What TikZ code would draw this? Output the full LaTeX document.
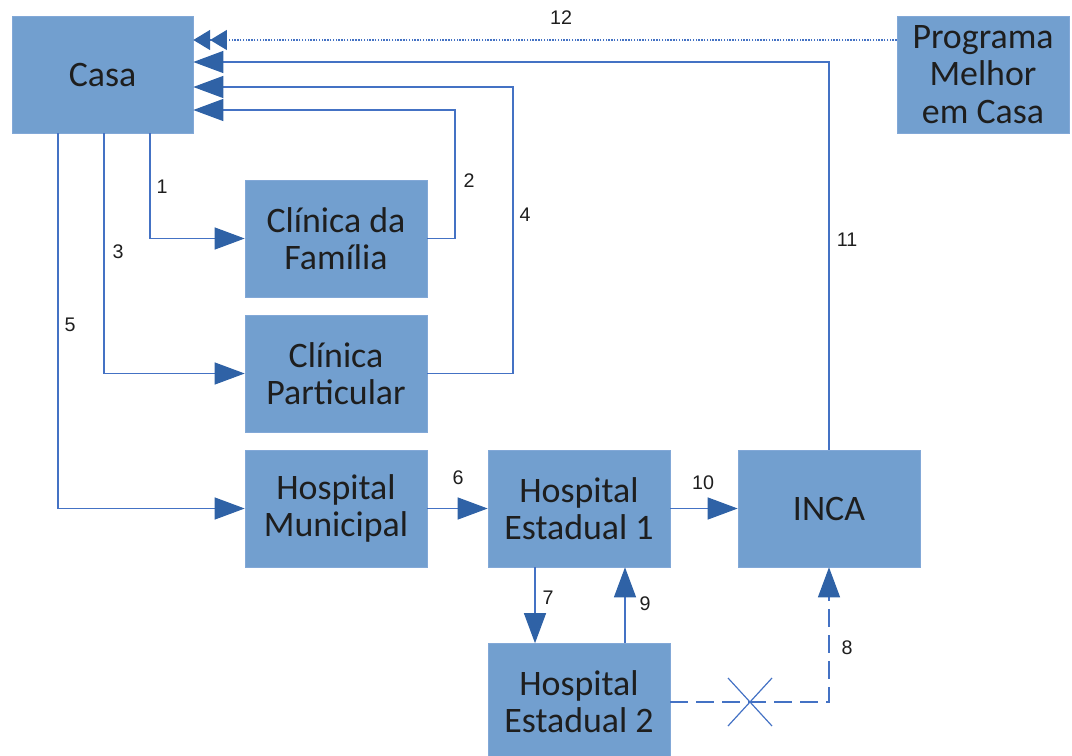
\documentclass[tikz,border=0pt]{standalone}
\usepackage{fontspec}
\setmainfont{Carlito}
\newfontfamily\numfont{Liberation Sans}
\usetikzlibrary{arrows.meta}

\definecolor{boxfill}{RGB}{114,159,207}
\definecolor{boxedge}{RGB}{130,168,215}
\definecolor{lineblue}{RGB}{68,114,196}
\definecolor{headblue}{RGB}{47,98,166}
\definecolor{textgray}{RGB}{30,30,30}

\tikzset{
	box/.style={draw=boxedge, fill=boxfill, minimum width=4.55cm, minimum height=2.925cm,
		inner sep=0pt, align=center, text=textgray, font=\fontsize{25.5}{26.5}\selectfont},
	conn/.style={draw=lineblue, line width=0.85pt,
		-{Triangle[length=0.75cm, width=0.55cm, color=headblue, fill=headblue]}},
	dotconn/.style={draw=lineblue, line width=0.85pt, dash pattern=on 1pt off 1pt,
		-{Triangle[length=0.42cm, width=0.5cm, color=headblue, fill=headblue]
		Triangle[length=0.42cm, width=0.5cm, color=headblue, fill=headblue]}},
	dashconn/.style={conn, dash pattern=on 0.45cm off 0.2cm},
	num/.style={text=textgray, font=\numfont\fontsize{14}{16}\selectfont, inner sep=0pt}
}

\begin{document}
\begin{tikzpicture}[x=0.025cm, y=-0.025cm]

		\useasboundingbox (0,0) rectangle (1072,756);

		% boxes
		\node[box, minimum width=4.525cm] (casa) at (102.5, 74.5) {Casa};
		\node[box, minimum width=4.3cm] (prog) at (983, 74.5) {Programa\\Melhor\\em Casa};
		\node[box] (cf) at (336, 238.5) {Clínica da\\Família};
		\node[box] (cp) at (336, 373.5) {Clínica\\Particular};
		\node[box] (hm) at (336, 508.5) {Hospital\\Municipal};
		\node[box] (he1) at (579, 508.5) {Hospital\\Estadual 1};
		\node[box] (inca) at (829, 508.5) {INCA};
		\node[box] (he2) at (579, 702) {Hospital\\Estadual 2};

		% turning points
		\coordinate (k1) at (150, 0);
		\coordinate (k3) at (104, 0);
		\coordinate (k5) at (58, 0);
		\coordinate (k2) at (455, 110);
		\coordinate (k4) at (513, 87);
		\coordinate (k11) at (0, 62);
		\coordinate (k12) at (0, 40);
		\coordinate (k7) at (535, 0);
		\coordinate (k9) at (625, 0);
		\coordinate (x8) at (750, 702);

		% from Casa
		\draw[conn] (casa.south -| k1) |- (cf);
		\draw[conn] (casa.south -| k3) |- (cp);
		\draw[conn] (casa.south -| k5) |- (hm);

		% back to Casa
		\draw[conn] (cf) -| (k2) -- (casa.east |- k2);
		\draw[conn] (cp) -| (k4) -- (casa.east |- k4);
		\draw[conn] (inca) |- (casa.east |- k11);
		\draw[dotconn] (prog.west |- k12) -- (casa.east |- k12);

		% hospitals
		\draw[conn] (hm) -- (he1);
		\draw[conn] (he1) -- (inca);
		\draw[conn] (he1.south -| k7) -- (he2.north -| k7);
		\draw[conn] (he2.north -| k9) -- (he1.south -| k9);
		\draw[dashconn] (he2) -| (inca);
		\draw[draw=lineblue, line width=0.85pt] (x8) +(-22,-24) -- +(22,24) (x8) +(-22,24) -- +(22,-24);

		% numbers
		\node[num] (n1) at (162, 187) {1};
		\node[num] (n2) at (469, 181) {2};
		\node[num] (n3) at (118, 252) {3};
		\node[num] (n4) at (525, 215) {4};
		\node[num] (n5) at (70, 325) {5};
		\node[num] (n6) at (458, 478) {6};
		\node[num] (n7) at (548, 598) {7};
		\node[num] (n8) at (847, 648) {8};
		\node[num] (n9) at (645, 604) {9};
		\node[num] (n10) at (703, 483) {10};
		\node[num] (n11) at (847, 240) {11};
		\node[num] (n12) at (561, 18) {12};

\end{tikzpicture}
\end{document}
